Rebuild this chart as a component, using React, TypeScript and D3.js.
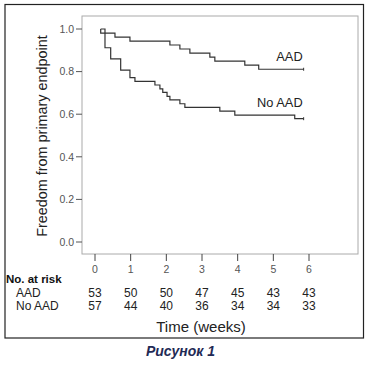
import React from "react";
import * as d3 from "d3";

// Kaplan-Meier steps (time in weeks, survival fraction)
const aadTimes = [0.16, 0.16, 0.56, 0.98, 2.1, 2.38, 2.66, 3.22, 3.36, 4.2, 4.59, 5.85];
const aadSurv = [1.0, 0.981, 0.962, 0.943, 0.925, 0.906, 0.887, 0.868, 0.849, 0.83, 0.811, 0.811];

const noAadTimes = [0.16, 0.28, 0.44, 0.72, 0.98, 1.12, 1.68, 1.82, 1.9, 2.02, 2.1, 2.38, 2.52, 3.5, 3.92, 5.6, 5.85];
const noAadSurv = [1.0, 0.912, 0.86, 0.807, 0.772, 0.754, 0.737, 0.719, 0.702, 0.684, 0.667, 0.649, 0.632, 0.614, 0.596, 0.579, 0.579];

const xTicks = [0, 1, 2, 3, 4, 5, 6];
const yTicks = [0, 0.2, 0.4, 0.6, 0.8, 1.0];

const riskGroups = ["AAD", "No AAD"];
const riskAad = [53, 50, 50, 47, 45, 43, 43];
const riskNoAad = [57, 44, 40, 36, 34, 34, 33];

const FONT = "'Liberation Sans', Arial, sans-serif";

const App = () => {
    const width = 369;
    const height = 368;

    const x = d3.scaleLinear().domain([0, 6]).range([95, 309]);
    const y = d3.scaleLinear().domain([0, 1]).range([242, 29]);

    const frame = { left: 82, top: 16, right: 358, bottom: 254 };

    const line = d3.line<[number, number]>()
        .x((d) => x(d[0]))
        .y((d) => y(d[1]))
        .curve(d3.curveStepAfter);

    const series = [
        { name: "AAD", pts: aadTimes.map((t, i) => [t, aadSurv[i]] as [number, number]), dy: -8 },
        { name: "No AAD", pts: noAadTimes.map((t, i) => [t, noAadSurv[i]] as [number, number]), dy: -11.5 },
    ];

    const riskRows = [riskAad, riskNoAad];

    return (
        <svg width={width} height={height} style={{ position: "absolute", left: 0, top: 0, background: "#fff" }}>
            {/* outer box */}
            <rect x={5} y={4.5} width={358.5} height={333.5} fill="none" stroke="#222" strokeWidth={1.2} />

            {/* plot frame */}
            <rect x={frame.left} y={frame.top} width={frame.right - frame.left} height={frame.bottom - frame.top}
                fill="none" stroke="#aaa" strokeWidth={1} />

            {/* y axis ticks */}
            {yTicks.map((v) => (
                <g key={v}>
                    <line x1={76} x2={frame.left} y1={y(v)} y2={y(v)} stroke="#555" strokeWidth={1} />
                    <text x={74} y={y(v) + 3.7} textAnchor="end" fontFamily={FONT} fontSize={10.5} fill="#555">
                        {v.toFixed(1)}
                    </text>
                </g>
            ))}

            {/* x axis ticks */}
            {xTicks.map((t) => (
                <g key={t}>
                    <line x1={x(t)} x2={x(t)} y1={frame.bottom} y2={frame.bottom + 7} stroke="#444" strokeWidth={1} />
                    <text x={x(t)} y={272.5} textAnchor="middle" fontFamily={FONT} fontSize={10.5} fill="#555">
                        {t}
                    </text>
                </g>
            ))}

            {/* curves */}
            {series.map((s) => {
                const last = s.pts[s.pts.length - 1];
                return (
                    <g key={s.name}>
                        <path d={line(s.pts) || ""} fill="none" stroke="#333" strokeWidth={1.2} />
                        <line x1={x(last[0])} x2={x(last[0])} y1={y(last[1]) - 1.5} y2={y(last[1]) + 1.5}
                            stroke="#333" strokeWidth={1} />
                        <text x={x(last[0]) - 1} y={y(last[1]) + s.dy} textAnchor="end" fontFamily={FONT}
                            fontSize={12.8} fill="#222">
                            {s.name}
                        </text>
                    </g>
                );
            })}

            {/* y axis title */}
            <text transform={`translate(46.5,136) rotate(-90)`} textAnchor="middle" fontFamily={FONT}
                fontSize={14.4} fill="#222">
                Freedom from primary endpoint
            </text>

            {/* numbers at risk */}
            <text x={6} y={282.5} fontFamily={FONT} fontSize={11.5} fontWeight="bold" fill="#111">No. at risk</text>
            {riskGroups.map((g, gi) => (
                <g key={g}>
                    <text x={16} y={296.5 + gi * 13} fontFamily={FONT} fontSize={12} fill="#222">{g}</text>
                    {riskRows[gi].map((n, i) => (
                        <text key={i} x={x(xTicks[i])} y={296.5 + gi * 13} textAnchor="middle"
                            fontFamily={FONT} fontSize={12} fill="#222">
                            {n}
                        </text>
                    ))}
                </g>
            ))}

            {/* x axis title */}
            <text x={201} y={331.5} textAnchor="middle" fontFamily={FONT} fontSize={15} fill="#222">
                Time (weeks)
            </text>

            {/* caption */}
            <text x={180.5} y={356} textAnchor="middle" fontFamily={FONT} fontSize={14}
                fontWeight="bold" fontStyle="italic" fill="#1f2a55">
                Рисунок 1
            </text>
        </svg>
    );
};

export default App;
